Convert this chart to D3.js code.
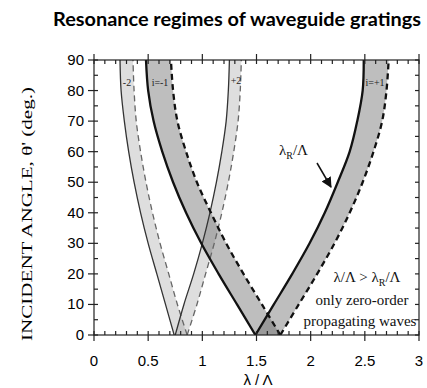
<!DOCTYPE html>
<html>
<head>
<meta charset="utf-8">
<script src="https://cdn.jsdelivr.net/npm/d3@7"></script>
<style>
body{margin:0;background:#fff;}
</style>
</head>
<body>
<script>
var theta = [0, 10, 20, 30, 40, 50, 60, 70, 80, 90];

// order i = -1 (dark band, left)
var m1Solid = [1.49, 1.32, 1.15, 0.99, 0.85, 0.73, 0.63, 0.55, 0.50, 0.48];
var m1Dash  = [1.72, 1.55, 1.38, 1.22, 1.08, 0.95, 0.85, 0.77, 0.73, 0.71];
// order i = +1 (dark band, right)
var p1Solid = [1.49, 1.66, 1.83, 1.99, 2.13, 2.25, 2.36, 2.43, 2.48, 2.49];
var p1Dash  = [1.72, 1.89, 2.06, 2.22, 2.36, 2.48, 2.58, 2.66, 2.70, 2.72];
// order -2 (light band)
var m2Solid = [0.74, 0.66, 0.58, 0.50, 0.43, 0.37, 0.32, 0.28, 0.25, 0.24];
var m2Dash  = [0.86, 0.77, 0.69, 0.61, 0.54, 0.48, 0.43, 0.39, 0.37, 0.36];
// order +2 (light band)
var p2Solid = [0.75, 0.83, 0.92, 1.00, 1.07, 1.13, 1.18, 1.22, 1.24, 1.25];
var p2Dash  = [0.86, 0.95, 1.03, 1.11, 1.18, 1.24, 1.29, 1.33, 1.35, 1.36];

var xTicks = [0, 0.5, 1, 1.5, 2, 2.5, 3];
var yTicks = [0, 10, 20, 30, 40, 50, 60, 70, 80, 90];

var W = 427, H = 388;
var svg = d3.select('body').append('svg').attr('width', W).attr('height', H);

var x = d3.scaleLinear().domain([0, 3]).range([94, 419]);
var y = d3.scaleLinear().domain([0, 90]).range([335, 60]);

function band(solid, dash) {
  return theta.map(function(t, i) { return {t: t, a: solid[i], b: dash[i]}; });
}

var area = d3.area()
  .y(function(d) { return y(d.t); })
  .x0(function(d) { return x(d.a); })
  .x1(function(d) { return x(d.b); })
  .curve(d3.curveCatmullRom);

var lineA = d3.line().x(function(d) { return x(d.a); }).y(function(d) { return y(d.t); }).curve(d3.curveCatmullRom);
var lineB = d3.line().x(function(d) { return x(d.b); }).y(function(d) { return y(d.t); }).curve(d3.curveCatmullRom);

var bands = [
  {d: band(m2Solid, m2Dash), fill: '#9a9a9a', op: 0.33, sw: 1.3, sc: '#333', dw: 1.3, dc: '#666'},
  {d: band(p2Solid, p2Dash), fill: '#9a9a9a', op: 0.33, sw: 1.3, sc: '#333', dw: 1.3, dc: '#666'},
  {d: band(m1Solid, m1Dash), fill: '#6e6e6e', op: 0.45, sw: 2.3, sc: '#111', dw: 2.3, dc: '#111'},
  {d: band(p1Solid, p1Dash), fill: '#6e6e6e', op: 0.45, sw: 2.3, sc: '#111', dw: 2.3, dc: '#111'}
];

svg.append('clipPath').attr('id', 'clip').append('rect')
  .attr('x', x(0)).attr('y', y(90)).attr('width', x(3) - x(0)).attr('height', y(0) - y(90));

var plot = svg.append('g').attr('clip-path', 'url(#clip)');

bands.forEach(function(b) {
  plot.append('path').attr('d', area(b.d)).attr('fill', b.fill).attr('fill-opacity', b.op);
});
bands.forEach(function(b) {
  plot.append('path').attr('d', lineA(b.d)).attr('fill', 'none')
    .attr('stroke', b.sc).attr('stroke-width', b.sw);
  plot.append('path').attr('d', lineB(b.d)).attr('fill', 'none')
    .attr('stroke', b.dc).attr('stroke-width', b.dw).attr('stroke-dasharray', '6,4');
});

// axes: major ticks outside, minor ticks inside
var minorX = d3.range(0, 3.001, 0.1);
var minorY = d3.range(0, 90.001, 5);

var ax = svg.append('g').attr('stroke', '#222').attr('stroke-width', 1.2);
ax.append('rect').attr('x', x(0)).attr('y', y(90)).attr('width', x(3) - x(0)).attr('height', y(0) - y(90))
  .attr('fill', 'none');

minorX.forEach(function(v) {
  ax.append('line').attr('x1', x(v)).attr('x2', x(v)).attr('y1', y(0)).attr('y2', y(0) - 4);
  ax.append('line').attr('x1', x(v)).attr('x2', x(v)).attr('y1', y(90)).attr('y2', y(90) + 4);
});
xTicks.forEach(function(v) {
  ax.append('line').attr('x1', x(v)).attr('x2', x(v)).attr('y1', y(0)).attr('y2', y(0) + 6);
  ax.append('line').attr('x1', x(v)).attr('x2', x(v)).attr('y1', y(90)).attr('y2', y(90) - 6);
});
minorY.forEach(function(v) {
  ax.append('line').attr('x1', x(0)).attr('x2', x(0) + 4).attr('y1', y(v)).attr('y2', y(v));
  ax.append('line').attr('x1', x(3)).attr('x2', x(3) - 4).attr('y1', y(v)).attr('y2', y(v));
});
yTicks.forEach(function(v) {
  ax.append('line').attr('x1', x(0)).attr('x2', x(0) - 6).attr('y1', y(v)).attr('y2', y(v));
});

svg.append('g').selectAll('text').data(xTicks).enter().append('text')
  .attr('x', function(d) { return x(d); }).attr('y', 366)
  .attr('text-anchor', 'middle')
  .style('font-family', 'Liberation Sans, Arial, sans-serif').style('font-size', '15px')
  .text(function(d) { return d; });

svg.append('g').selectAll('text').data(yTicks).enter().append('text')
  .attr('x', 84).attr('y', function(d) { return y(d) + 5; })
  .attr('text-anchor', 'end')
  .style('font-family', 'Liberation Sans, Arial, sans-serif').style('font-size', '15px')
  .text(function(d) { return d; });

// titles
svg.append('text').attr('x', 237).attr('y', 26).attr('text-anchor', 'middle')
  .attr('textLength', 368).attr('lengthAdjust', 'spacingAndGlyphs')
  .style('font-family', 'Lato, sans-serif').style('font-weight', 'bold').style('font-size', '18px')
  .text('Resonance regimes of waveguide gratings');

svg.append('text').attr('x', 258).attr('y', 385).attr('text-anchor', 'middle')
  .style('font-family', 'Liberation Sans, Arial, sans-serif').style('font-size', '15px')
  .text('λ / Λ');

svg.append('text').attr('transform', 'translate(32,214) rotate(-90)').attr('text-anchor', 'middle')
  .attr('textLength', 254).attr('lengthAdjust', 'spacingAndGlyphs')
  .style('font-family', 'Liberation Serif, Times New Roman, serif').style('font-size', '14.5px')
  .text("INCIDENT ANGLE, θ'  (deg.)");

// annotations
var serif = 'Liberation Serif, Times New Roman, serif';
var lab = svg.append('g').style('font-family', serif).style('font-size', '10px').attr('fill', '#222');
lab.append('text').attr('x', 127).attr('y', 86).attr('text-anchor', 'middle').text('-2');
lab.append('text').attr('x', 160).attr('y', 86).attr('text-anchor', 'middle').text('i=-1');
lab.append('text').attr('x', 236).attr('y', 84).attr('text-anchor', 'middle').text('+2');
lab.append('text').attr('x', 375).attr('y', 86).attr('text-anchor', 'middle').text('i=+1');

var big = svg.append('g').style('font-family', serif).style('font-size', '15px').attr('fill', '#111');
var t1 = big.append('text').attr('x', 279).attr('y', 155);
t1.append('tspan').text('λ');
t1.append('tspan').attr('dy', 4).style('font-size', '10px').text('R');
t1.append('tspan').attr('dy', -4).text('/Λ');

var t2 = big.append('text').attr('x', 367).attr('y', 282).attr('text-anchor', 'middle');
t2.append('tspan').text('λ/Λ >  λ');
t2.append('tspan').attr('dy', 4).style('font-size', '10px').text('R');
t2.append('tspan').attr('dy', -4).text('/Λ');
big.append('text').attr('x', 362).attr('y', 305).attr('text-anchor', 'middle').text('only zero-order');
big.append('text').attr('x', 360).attr('y', 326).attr('text-anchor', 'middle').text('propagating waves');

svg.append('defs').append('marker').attr('id', 'arr').attr('viewBox', '0 0 10 10')
  .attr('refX', 9).attr('refY', 5).attr('markerWidth', 7).attr('markerHeight', 7).attr('orient', 'auto')
  .append('path').attr('d', 'M0,0L10,5L0,10z').attr('fill', '#111');
svg.append('line').attr('x1', 317).attr('y1', 163).attr('x2', 331).attr('y2', 187)
  .attr('stroke', '#111').attr('stroke-width', 1.5).attr('marker-end', 'url(#arr)');
</script>
</body>
</html>
